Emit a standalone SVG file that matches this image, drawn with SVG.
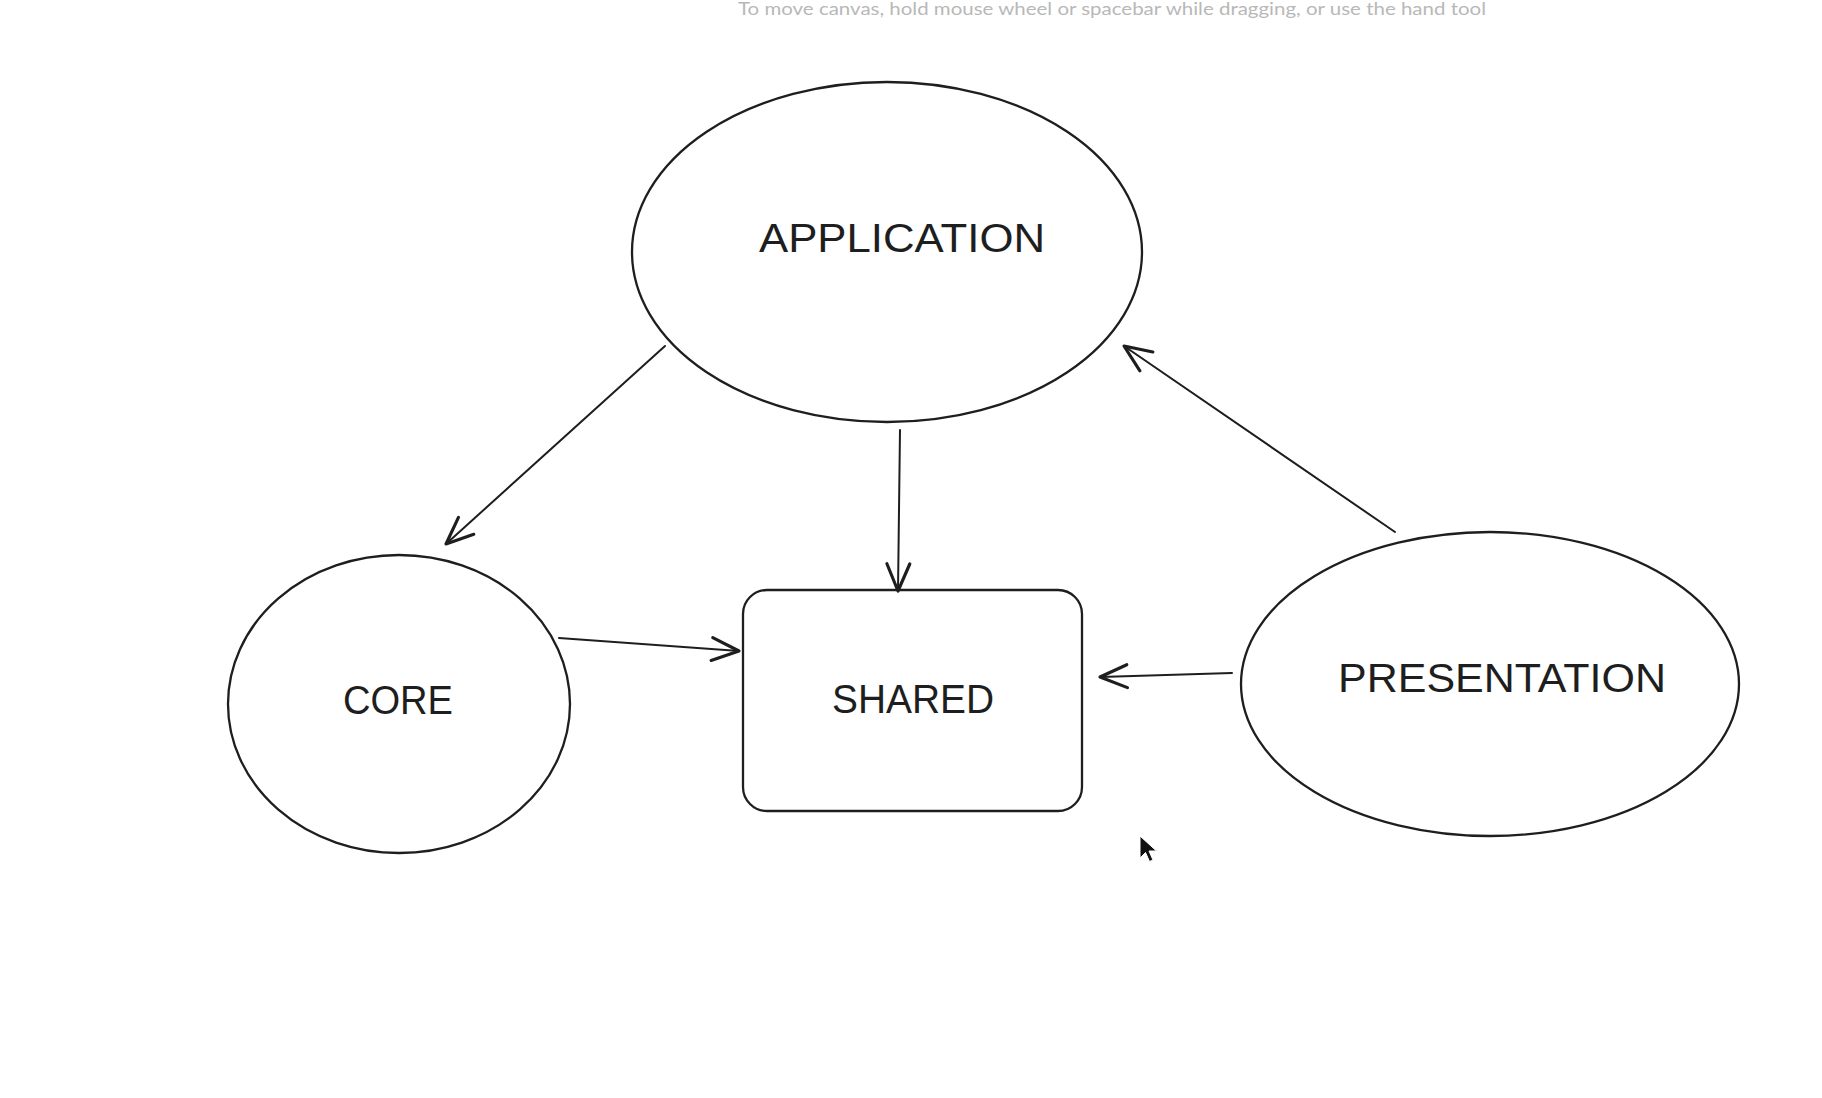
<svg xmlns="http://www.w3.org/2000/svg" width="1822" height="1098" viewBox="0 0 1822 1098">
  <style>
    .shape { fill: none; stroke: #1e1e1e; stroke-width: 2.3; }
    .lbl { font-family: "Liberation Sans", Arial, sans-serif; font-size: 40px; fill: #1e1e1e; text-anchor: middle; }
    .edge { fill: none; stroke: #1e1e1e; stroke-width: 2; stroke-linecap: round; }
    .hint { font-family: Lato, "Liberation Sans", sans-serif; font-size: 18px; fill: #b8b8b8; }
  </style>
  <defs>
    <marker id="open" markerUnits="userSpaceOnUse" markerWidth="40" markerHeight="40" refX="0" refY="0" viewBox="-24 -14 28 28" orient="auto" overflow="visible">
      <path d="M -19 -8 L 0 0 L -19 8" fill="none" stroke="#1e1e1e" stroke-width="2.2" stroke-linecap="round" stroke-linejoin="round"/>
    </marker>
  </defs>
  <rect width="1822" height="1098" fill="#ffffff"/>
  <text class="hint" x="738" y="15" textLength="748" lengthAdjust="spacingAndGlyphs">To move canvas, hold mouse wheel or spacebar while dragging, or use the hand tool</text>

  <g id="connectors">
    <line class="edge" x1="665" y1="346" x2="446" y2="544" marker-end="url(#open)"/>
    <line class="edge" x1="900" y1="430" x2="898" y2="591" marker-end="url(#open)"/>
    <line class="edge" x1="559" y1="638" x2="739" y2="651" marker-end="url(#open)"/>
    <line class="edge" x1="1232" y1="673" x2="1100" y2="677" marker-end="url(#open)"/>
    <line class="edge" x1="1395" y1="532" x2="1124" y2="346" stroke-width="3.6" marker-end="url(#open)"/>
  </g>

  <g id="application">
    <ellipse class="shape" cx="887" cy="252" rx="255" ry="170"/>
    <text class="lbl" x="902" y="252" textLength="286" lengthAdjust="spacingAndGlyphs">APPLICATION</text>
  </g>
  <g id="core">
    <ellipse class="shape" cx="399" cy="704" rx="171" ry="149"/>
    <text class="lbl" x="398" y="714" textLength="110" lengthAdjust="spacingAndGlyphs">CORE</text>
  </g>
  <g id="shared">
    <rect class="shape" x="743" y="590" width="339" height="221" rx="24"/>
    <text class="lbl" x="913" y="713" textLength="162" lengthAdjust="spacingAndGlyphs">SHARED</text>
  </g>
  <g id="presentation">
    <ellipse class="shape" cx="1490" cy="684" rx="249" ry="152"/>
    <text class="lbl" x="1502" y="692" textLength="328" lengthAdjust="spacingAndGlyphs">PRESENTATION</text>
  </g>

  <path d="M 1140 836 L 1140 858 L 1145.5 852.5 L 1149.5 861.5 L 1153 860 L 1149 851 L 1156.5 851 Z" fill="#111111" stroke="#ffffff" stroke-width="1"/>
</svg>
